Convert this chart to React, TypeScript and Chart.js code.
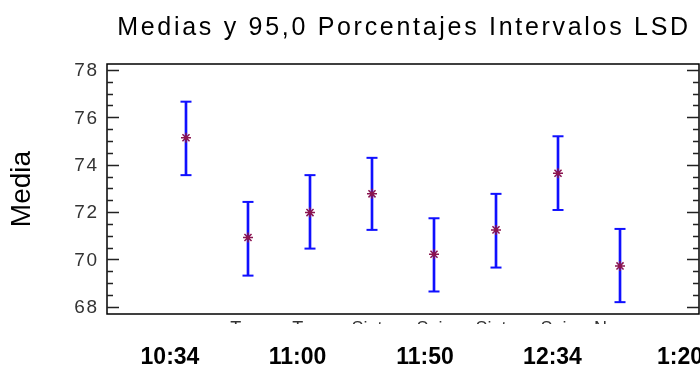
import { useEffect, useRef } from "react";
import { Chart, registerables } from "chart.js";

Chart.register(...registerables);

// ---- data ----
const categories = [1, 2, 3, 4, 5, 6, 7, 8];
const means = [75.14, 70.93, 71.98, 72.77, 70.22, 71.25, 73.64, 69.73];
const lower = [73.56, 69.32, 70.46, 71.25, 68.65, 69.66, 72.09, 68.2];
const upper = [76.66, 72.43, 73.56, 74.29, 71.74, 72.77, 75.2, 71.29];
const cutLabels = ["", "Tres", "Tres", "Siete", "Seis", "Siete", "Seis", "Nueve"];
const timeLabels = ["10:34", "11:00", "11:50", "12:34", "1:20"];
const yTickLabels = [68, 70, 72, 74, 76, 78];
const titleText = "Medias y 95,0 Porcentajes Intervalos LSD";
const yTitle = "Media";

const FONT = '"Liberation Sans", Arial, sans-serif';
const BLUE = "#1010ff";
const STAR = "#8a1450";

const decor = {
  id: "decor",
  afterDraw(chart: any) {
    const { ctx, chartArea: a, scales } = chart;
    const x = scales.x;
    const x2 = scales.x2;
    const y = scales.y;
    ctx.save();
    // title
    ctx.fillStyle = "#000";
    ctx.font = `25px ${FONT}`;
    (ctx as any).letterSpacing = "2.7px";
    ctx.textAlign = "center";
    ctx.textBaseline = "middle";
    ctx.fillText(titleText, (a.left + a.right) / 2 + 1, 28);
    // y tick labels
    ctx.font = `19px ${FONT}`;
    (ctx as any).letterSpacing = "1.5px";
    ctx.fillStyle = "#333";
    ctx.textAlign = "right";
    yTickLabels.forEach((v) => {
      ctx.fillText(String(v), a.left - 8.5, y.getPixelForValue(v) + 1);
    });
    (ctx as any).letterSpacing = "0px";
    // bold time labels
    ctx.font = `bold 23px ${FONT}`;
    ctx.fillStyle = "#000";
    ctx.textAlign = "center";
    timeLabels.forEach((t, i) => {
      ctx.fillText(t, x2.getPixelForValue(i), a.bottom + 44);
    });
    // clipped category labels
    ctx.save();
    ctx.beginPath();
    ctx.rect(a.left, a.bottom + 3, a.right - a.left, 7);
    ctx.clip();
    ctx.font = `18px ${FONT}`;
    ctx.textBaseline = "alphabetic";
    ctx.textAlign = "center";
    ctx.fillStyle = "#333";
    cutLabels.forEach((t, i) => {
      ctx.fillText(t, x.getPixelForValue(categories[i]), a.bottom + 20);
    });
    ctx.restore();
    // frame
    ctx.strokeStyle = "#000";
    ctx.lineWidth = 1.5;
    ctx.strokeRect(a.left, a.top, a.right - a.left, a.bottom - a.top);
    // inward ticks both sides
    ctx.lineWidth = 1.5;
    ctx.strokeStyle = "#222";
    y.ticks.forEach((t: any) => {
      const py = Math.round(y.getPixelForValue(t.value)) + 0.5;
      const major = Math.abs(t.value % 2) < 1e-6;
      const len = major ? 12 : 6;
      ctx.beginPath();
      ctx.moveTo(a.left, py);
      ctx.lineTo(a.left + len, py);
      ctx.moveTo(a.right, py);
      ctx.lineTo(a.right - len, py);
      ctx.stroke();
    });
    ctx.restore();
  },
};

export default function App() {
  const ref = useRef<HTMLCanvasElement | null>(null);
  useEffect(() => {
    if (!ref.current) return;
    const chart = new Chart(ref.current, {
      type: "scatter",
      data: {
        datasets: [
          {
            type: "scatter",
            data: means.map((m, i) => ({ x: categories[i], y: m })),
            pointStyle: "star",
            pointRadius: 5,
            pointBorderColor: STAR,
            pointBackgroundColor: STAR,
            pointBorderWidth: 1.5,
          } as any,
          {
            type: "scatter",
            data: upper.map((v, i) => ({ x: categories[i], y: v })),
            pointStyle: "line",
            pointRadius: 5.5,
            pointBorderColor: BLUE,
            pointBorderWidth: 2,
          } as any,
          {
            type: "scatter",
            data: lower.map((v, i) => ({ x: categories[i], y: v })),
            pointStyle: "line",
            pointRadius: 5.5,
            pointBorderColor: BLUE,
            pointBorderWidth: 2,
          } as any,
          {
            type: "bar",
            data: categories.map((c, i) => ({ x: c, y: [lower[i], upper[i]] })),
            backgroundColor: BLUE,
            barThickness: 2,
            borderWidth: 0,
          } as any,
        ],
      },
      options: {
        responsive: false,
        animation: false,
        devicePixelRatio: 1,
        events: [],
        layout: { autoPadding: false, padding: { top: 64, left: 0, right: 1, bottom: 55 } },
        plugins: {
          legend: { display: false },
          tooltip: { enabled: false },
          title: { display: false },
        },
        scales: {
          x: {
            type: "linear",
            min: -0.274,
            max: 9.274,
            display: false,
            offset: false,
          },
          x2: {
            type: "linear",
            position: "bottom",
            min: -0.494,
            max: 4.149,
            offset: false,
            display: false,
          },
          y: {
            type: "linear",
            min: 67.7,
            max: 78.25,
            afterBuildTicks: (s: any) => {
              const t: any[] = [];
              for (let v = 68; v <= 78.0001; v += 0.5) t.push({ value: v });
              s.ticks = t;
            },
            ticks: { display: false },
            grid: { display: false },
            border: { display: false },
            title: {
              display: true,
              text: yTitle,
              font: { size: 28, family: FONT },
              color: "#000",
              padding: { top: 5, bottom: 0 },
            },
            afterFit: (s: any) => {
              s.width = 107;
            },
          },
        } as any,
      },
      plugins: [decor],
    });
    return () => chart.destroy();
  }, []);
  return (
    <div style={{ position: "fixed", left: 0, top: 0, width: 700, height: 369, background: "#fff" }}>
      <canvas ref={ref} width={700} height={369} style={{ display: "block" }} />
    </div>
  );
}
